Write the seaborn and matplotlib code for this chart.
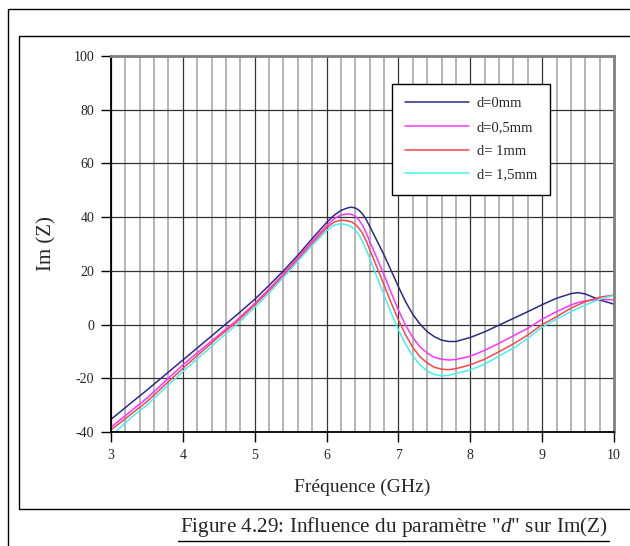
import numpy as np
import pandas as pd
import matplotlib
matplotlib.use("Agg")
import matplotlib.pyplot as plt
from matplotlib.lines import Line2D
from matplotlib.patches import Rectangle
import seaborn as sns

# values (Im(Z) versus frequency in GHz)
freq = [3.0, 3.25, 3.5, 3.75, 4.0, 4.25, 4.5, 4.75, 5.0, 5.2, 5.4, 5.6, 5.8,
        6.0, 6.1, 6.2, 6.3, 6.35, 6.4, 6.45, 6.5, 6.55, 6.6, 6.7, 6.8, 6.9,
        7.0, 7.1, 7.2, 7.3, 7.4, 7.5, 7.6, 7.7, 7.8, 8.0, 8.2, 8.4, 8.6, 8.8,
        9.0, 9.2, 9.4, 9.5, 9.6, 9.8, 10.0]
d_0 = [-35.3, -29.8, -24.4, -18.8, -13.2, -7.6, -2.0, 3.6, 9.4, 14.6, 20.0,
       25.8, 32.0, 38.0, 40.6, 42.5, 43.5, 43.7, 43.4, 42.6, 41.2, 39.2, 36.6,
       31.3, 25.9, 20.0, 14.1, 8.5, 3.8, 0.2, -2.6, -4.5, -5.8, -6.3, -6.3,
       -4.8, -2.7, -0.2, 2.3, 4.8, 7.4, 9.8, 11.5, 11.9, 11.4, 9.2, 7.6]
d_05 = [-38.2, -32.8, -27.4, -21.2, -15.0, -9.4, -3.9, 1.6, 7.9, 13.3, 19.0,
        25.0, 31.0, 36.8, 39.3, 40.8, 41.2, 41.0, 40.3, 39.0, 37.0, 34.3, 31.0,
        24.8, 18.5, 11.8, 5.4, -0.3, -4.8, -8.3, -10.6, -12.2, -12.9, -13.2,
        -13.0, -11.8, -9.6, -7.0, -4.2, -1.4, 2.0, 4.8, 7.3, 8.2, 8.8, 9.4, 9.2]
d_1 = [-39.2, -34.0, -28.7, -22.5, -16.3, -10.4, -4.5, 1.0, 7.3, 12.6, 18.3,
       24.3, 30.2, 36.0, 38.1, 38.9, 38.6, 38.2, 37.3, 35.9, 34.0, 31.2, 27.9,
       21.4, 14.7, 8.0, 1.7, -3.8, -8.5, -12.0, -14.3, -15.9, -16.6, -16.8,
       -16.4, -15.0, -12.9, -10.1, -7.2, -3.9, 0.0, 2.9, 6.1, 7.3, 8.5, 10.2, 11.0]
d_15 = [-41.6, -35.3, -29.9, -23.7, -17.5, -11.6, -5.7, 0.0, 6.4, 11.8, 17.6,
        23.6, 29.5, 35.0, 37.0, 37.6, 37.0, 36.3, 35.2, 33.4, 31.0, 28.0, 24.7,
        17.8, 11.0, 4.3, -2.0, -7.3, -11.7, -15.0, -17.3, -18.6, -19.1, -18.9,
        -18.2, -16.9, -14.7, -11.7, -8.8, -5.1, -1.0, 2.0, 4.8, 6.1, 7.3, 9.4, 11.0]
labels = ["d=0mm", "d=0,5mm", "d= 1mm", "d= 1,5mm"]
colors = ["#2b2b85", "#ff33ff", "#ff4545", "#45f0f0"]
x_ticks = [3, 4, 5, 6, 7, 8, 9, 10]
y_ticks = [-40, -20, 0, 20, 40, 60, 80, 100]

df = pd.DataFrame({
    "freq": freq * 4,
    "imz": d_0 + d_05 + d_1 + d_15,
    "serie": [lab for lab in labels for _ in freq],
})

sns.set_theme(style="white")
plt.rcParams["font.family"] = ["Liberation Serif", "DejaVu Serif"]
plt.rcParams["mathtext.fontset"] = "custom"
plt.rcParams["mathtext.it"] = "Liberation Serif:italic"
plt.rcParams["mathtext.rm"] = "Liberation Serif"
plt.rcParams["axes.unicode_minus"] = False

fig = plt.figure(figsize=(6.3, 5.46), dpi=100)
ax = fig.add_axes([111 / 630, 1 - 432 / 546, 503 / 630, 376 / 546])

# frames around the chart
fig.patches.append(Rectangle((8 / 630, -0.1), 1.2, 1 - 9 / 546 + 0.1, transform=fig.transFigure,
                             fill=False, edgecolor="black", linewidth=1.0))
fig.patches.append(Rectangle((19 / 630, 1 - 509 / 546), 1.2, (509 - 36) / 546, transform=fig.transFigure,
                             fill=False, edgecolor="black", linewidth=1.0))

sns.lineplot(data=df, x="freq", y="imz", hue="serie", palette=dict(zip(labels, colors)),
             linewidth=1.1, ax=ax, sort=False)

ax.set_xlim(3, 10)
ax.set_ylim(-40, 100)
ax.set_xticks(x_ticks)
ax.set_yticks(y_ticks)
ax.set_xticks(np.arange(3, 10.01, 0.2), minor=True)
ax.grid(True, which="major", color="#333333", linewidth=0.9)
ax.grid(True, which="minor", axis="x", color="#b0b0b0", linewidth=1.3)
ax.set_axisbelow(True)
ax.tick_params(axis="both", which="major", direction="out", length=7, width=1,
               labelsize=10, color="black", pad=5, left=True, bottom=True)
ax.tick_params(axis="x", which="minor", length=0)

for side in ["left", "bottom"]:
    ax.spines[side].set_color("black")
    ax.spines[side].set_linewidth(1.3)
for side in ["top", "right"]:
    ax.spines[side].set_color("#808080")
    ax.spines[side].set_linewidth(2)

ax.set_xlabel("Fréquence (GHz)", fontsize=14, labelpad=12)
ax.set_ylabel("Im (Z)", fontsize=15, labelpad=12)

handles = [Line2D([0], [0], color=c, linewidth=1.1) for c in colors]
leg = ax.legend(handles, labels, loc="upper left", bbox_to_anchor=(0.559, 0.9255),
                borderaxespad=0, fancybox=False, framealpha=1, edgecolor="black",
                fontsize=10.5, handlelength=4.4, labelspacing=0.72, borderpad=0.9,
                handletextpad=0.5)
leg.get_frame().set_linewidth(1.0)

fig.text(393.5 / 630, 1 - 527 / 546, 'Figure 4.29: Influence du paramètre "$\\mathit{d}$" sur Im(Z)',
         ha="center", va="center", fontsize=15.3)
fig.lines.append(Line2D([178 / 630, 609 / 630], [1 - 541 / 546, 1 - 541 / 546],
                        transform=fig.transFigure, color="black", linewidth=1))

fig.savefig("out.png", dpi=100)
